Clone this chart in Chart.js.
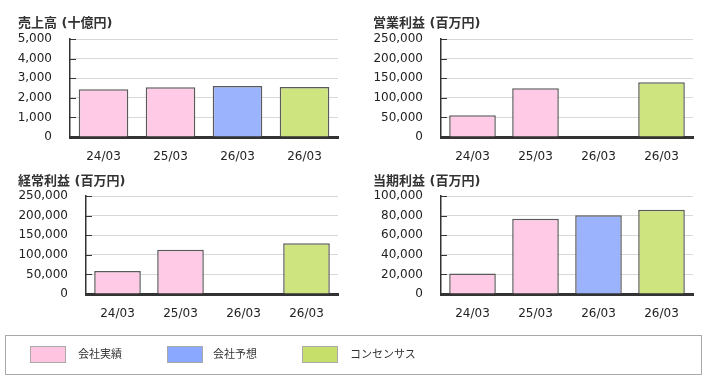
<!DOCTYPE html>
<html>
<head>
<meta charset="utf-8">
<script src="https://cdn.jsdelivr.net/npm/chart.js@4"></script>
<style>
  html,body{margin:0;padding:0;background:#fff;}
  body{width:710px;height:379px;position:relative;overflow:hidden;font-family:"DejaVu Sans","Noto Sans CJK JP",sans-serif;}
  .box{position:absolute;width:350px;height:170px;}
  .legend{position:absolute;left:5px;top:335px;width:697px;height:40px;border:1px solid #aaa;box-sizing:border-box;}
  .sw{position:absolute;top:10px;width:36px;height:17px;border:1px solid #aaa;box-sizing:border-box;}
  .lt{position:absolute;top:10px;font:11px "Noto Sans CJK JP",sans-serif;color:#333;line-height:15px;}
</style>
</head>
<body>
<div class="box" style="left:0;top:0"><canvas id="c1"></canvas></div>
<div class="box" style="left:355px;top:0"><canvas id="c2"></canvas></div>
<div class="box" style="left:0;top:160px"><canvas id="c3"></canvas></div>
<div class="box" style="left:355px;top:160px"><canvas id="c4"></canvas></div>
<div class="legend" id="legend"></div>
<script>
// data
const periods = ['24/03','25/03','26/03','26/03'];
const kinds = ['actual','actual','forecast','consensus'];
const sales = [2432, 2540, 2600, 2550];          // 十億円
const opProfit = [55400, 124200, null, 139500];  // 百万円
const ordProfit = [58800, 112800, null, 129500];
const netProfit = [20800, 76800, 80400, 85900];
const legendNames = {actual:'会社実績', forecast:'会社予想', consensus:'コンセンサス'};

const fills = {actual:'#ffcae6', forecast:'#9bb3fd', consensus:'#cde47f'};
const swatch = {actual:'#ffc4e0', forecast:'#8aa8ff', consensus:'#c6df6a'};

// short dark tick marks just inside the y axis
const innerTicks = {
  id:'innerTicks',
  afterDraw(chart){
    const y = chart.scales.y, a = chart.chartArea, c = chart.ctx;
    c.save(); c.strokeStyle = '#333'; c.lineWidth = 1;
    y.ticks.forEach((t,i)=>{
      const py = Math.round(y.getPixelForTick(i)) + 0.5;
      c.beginPath(); c.moveTo(a.left, py); c.lineTo(a.left + 6, py); c.stroke();
    });
    c.restore();
  }
};

function makeChart(id, title, values, max, step, yWidth, titlePad, xHeight){
  const ctx = document.getElementById(id).getContext('2d');
  return new Chart(ctx, {
    type:'bar',
    data:{ labels: periods, datasets:[{
      data: values,
      backgroundColor: kinds.map(k=>fills[k]),
      borderColor:'#5a5a5a', borderWidth:1.5, borderSkipped:'bottom',
      barPercentage:0.74, categoryPercentage:1
    }]},
    plugins:[innerTicks],
    options:{
      responsive:true, maintainAspectRatio:false, animation:false,
      layout:{padding:{left:18, right:12, top:0, bottom:0}},
      plugins:{
        legend:{display:false}, tooltip:{enabled:false},
        title:{display:true, text:title, align:'start', color:'#333',
          font:{family:'"DejaVu Sans","Noto Sans CJK JP"', size:13, weight:'bold'},
          padding:titlePad}
      },
      scales:{
        x:{
          grid:{display:false, drawTicks:false},
          border:{color:'#333', width:3},
          ticks:{color:'#222', padding:13, font:{family:'"DejaVu Sans"', size:12}},
          afterFit:s=>{ s.height = xHeight; }
        },
        y:{
          min:0, max:max,
          grid:{color:'#d8d8d8', lineWidth:1, drawTicks:false},
          border:{color:'#333', width:1.5},
          ticks:{stepSize:step, color:'#222', padding:18, font:{family:'"DejaVu Sans"', size:12},
            callback:v=>v.toLocaleString('en-US')},
          afterFit:s=>{ s.width = yWidth; }
        }
      }
    }
  });
}

makeChart('c1','売上高 (十億円)', sales, 5000, 1000, 52, {top:16, bottom:7.4}, 33);
makeChart('c2','営業利益 (百万円)', opProfit, 250000, 50000, 68, {top:16, bottom:7.4}, 33);
makeChart('c3','経常利益 (百万円)', ordProfit, 250000, 50000, 68, {top:14, bottom:6.4}, 36);
makeChart('c4','当期利益 (百万円)', netProfit, 100000, 20000, 68, {top:14, bottom:6.4}, 36);

// legend
const lg = document.getElementById('legend');
const legX = [[24,72],[161,207],[296,344]];
['actual','forecast','consensus'].forEach((k,i)=>{
  const s = document.createElement('div'); s.className='sw';
  s.style.left = legX[i][0]+'px'; s.style.background = swatch[k];
  const t = document.createElement('div'); t.className='lt';
  t.style.left = legX[i][1]+'px'; t.textContent = legendNames[k];
  lg.appendChild(s); lg.appendChild(t);
});
</script>
</body>
</html>
